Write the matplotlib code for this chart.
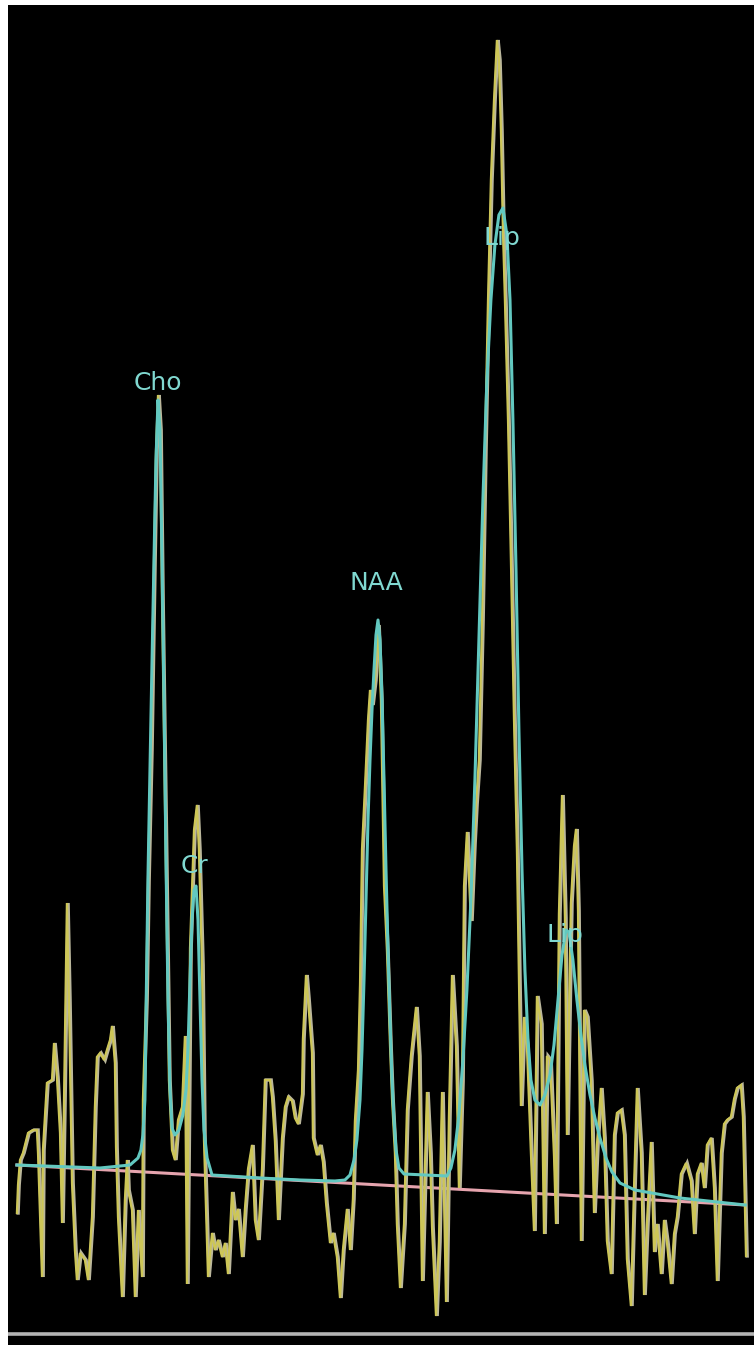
import matplotlib
matplotlib.use("Agg")
import matplotlib.pyplot as plt
from matplotlib import font_manager, transforms

# ---------------- data (chemical shift in ppm, signal in arbitrary units) -------------
raw_ppm = [4.006, 4.000, 3.989, 3.973, 3.945, 3.918, 3.896, 3.890, 3.868, 3.863, 3.852, 3.841,
           3.813, 3.802, 3.786, 3.769, 3.758, 3.747, 3.731, 3.720, 3.703, 3.687, 3.676, 3.659,
           3.632, 3.615, 3.593, 3.577, 3.566, 3.549, 3.527, 3.511, 3.494, 3.483, 3.467, 3.461,
           3.450, 3.428, 3.412, 3.401, 3.395, 3.373, 3.357, 3.340, 3.318, 3.313, 3.296, 3.285,
           3.269, 3.252, 3.241, 3.230, 3.219, 3.208, 3.192, 3.181, 3.170, 3.153, 3.137, 3.120,
           3.098, 3.082, 3.071, 3.054, 3.032, 3.016, 3.005, 2.988, 2.977, 2.955, 2.933, 2.917,
           2.900, 2.878, 2.862, 2.845, 2.823, 2.807, 2.790, 2.768, 2.752, 2.735, 2.713, 2.697,
           2.680, 2.658, 2.642, 2.614, 2.603, 2.587, 2.570, 2.548, 2.532, 2.515, 2.493, 2.477,
           2.460, 2.438, 2.433, 2.416, 2.405, 2.383, 2.378, 2.356, 2.339, 2.323, 2.306, 2.284,
           2.268, 2.246, 2.229, 2.213, 2.191, 2.174, 2.158, 2.147, 2.130, 2.119, 2.108, 2.092,
           2.075, 2.064, 2.053, 2.037, 2.020, 2.004, 1.987, 1.971, 1.954, 1.943, 1.927, 1.916,
           1.899, 1.877, 1.861, 1.839, 1.811, 1.795, 1.778, 1.751, 1.734, 1.723, 1.701, 1.685,
           1.668, 1.646, 1.630, 1.613, 1.591, 1.575, 1.558, 1.547, 1.531, 1.509, 1.492, 1.481,
           1.465, 1.448, 1.432, 1.415, 1.399, 1.382, 1.366, 1.355, 1.344, 1.333, 1.322, 1.305,
           1.289, 1.272, 1.256, 1.245, 1.234, 1.217, 1.201, 1.179, 1.162, 1.146, 1.124, 1.107,
           1.091, 1.074, 1.052, 1.041, 1.025, 1.008, 0.992, 0.981, 0.959, 0.942, 0.931, 0.920,
           0.904, 0.887, 0.871, 0.849, 0.832, 0.816, 0.794, 0.777, 0.761, 0.739, 0.722, 0.706,
           0.684, 0.667, 0.651, 0.629, 0.612, 0.596, 0.574, 0.557, 0.541, 0.519, 0.502, 0.486,
           0.464, 0.447, 0.431, 0.409, 0.392, 0.376, 0.354, 0.326, 0.299, 0.282, 0.266, 0.244,
           0.227, 0.211, 0.189, 0.172, 0.156, 0.134, 0.117, 0.101, 0.079, 0.062, 0.046, 0.024,
           0.013, -0.004]
raw_signal = [-1.3, 1.5, 4.0, 4.7, 6.7, 7.0, 7.0, 4.7, -7.7, 5.0, 8.3, 11.7,
              12.0, 15.7, 12.3, 6.7, -2.3, 10.0, 29.7, 20.0, 1.7, -5.0, -8.0, -5.3,
              -6.0, -8.0, -1.7, 9.3, 14.3, 14.7, 14.0, 15.0, 16.0, 17.4, 13.7, 5.3,
              -1.7, -9.7, 0.0, 4.0, 1.0, -1.0, -9.7, -1.0, -7.7, 10.0, 20.0, 32.0,
              45.0, 64.0, 75.0, 80.5, 77.0, 60.0, 40.0, 25.9, 12.0, 5.0, 4.0, 8.0,
              9.3, 16.4, -8.4, 25.2, 37.0, 39.5, 35.0, 23.5, 5.9, -7.7, -3.3, -5.0,
              -4.0, -5.7, -4.3, -7.4, 0.8, -2.0, -0.9, -5.7, -0.9, 3.1, 5.5, -2.0,
              -4.0, 3.1, 12.0, 12.0, 10.3, 5.9, -2.0, 6.2, 9.3, 10.3, 9.9, 8.2,
              7.6, 10.6, 16.1, 22.5, 20.1, 14.7, 6.2, 4.5, 5.5, 3.8, -0.3, -4.3,
              -3.3, -5.7, -9.8, -5.0, -0.9, -5.0, 0.1, 7.9, 13.0, 21.5, 35.1, 41.2,
              48.0, 51.0, 49.5, 52.0, 57.5, 50.0, 31.4, 25.0, 15.4, 10.1, 4.7, -2.4,
              -8.8, -2.4, 9.0, 14.4, 19.3, 14.4, -8.1, 10.8, 4.7, -2.7, -11.6, -4.2,
              10.8, -10.2, 8.3, 22.5, 15.4, 1.2, 11.9, 31.4, 36.8, 27.9, 35.7, 39.6,
              44.0, 58.0, 75.0, 90.0, 102.0, 110.0, 116.0, 114.0, 107.0, 97.0, 90.0, 78.0,
              64.0, 48.0, 35.0, 22.0, 9.4, 18.3, 15.4, 4.7, -3.1, 20.4, 17.6, -3.4,
              14.4, 14.0, 4.4, -2.4, 28.6, 40.5, 28.2, 6.5, 29.7, 35.4, 37.1, 28.9,
              -4.1, 19.0, 18.3, 11.9, -1.3, 5.5, 11.2, 6.2, -4.1, -7.4, 6.5, 8.7,
              9.0, 6.5, -5.9, -10.6, 1.2, 11.2, 4.7, -9.5, -2.4, 5.8, -5.2, -2.4,
              -7.4, -2.0, -4.2, -8.4, -3.4, -1.7, 2.6, 3.7, 1.9, -3.4, 2.6, 3.7,
              1.2, 5.5, 6.2, 1.2, -8.1, 4.7, 7.6, 8.0, 8.3, 10.1, 11.2, 11.5,
              8.3, -5.6]

fit_ppm = [4.006, 3.549, 3.384, 3.340, 3.324, 3.313, 3.302, 3.296, 3.285, 3.269, 3.252, 3.241,
           3.230, 3.219, 3.208, 3.197, 3.186, 3.175, 3.164, 3.153, 3.137, 3.115, 3.093, 3.076,
           3.065, 3.054, 3.043, 3.032, 3.021, 3.010, 2.999, 2.988, 2.977, 2.960, 2.933, 2.669,
           2.449, 2.257, 2.202, 2.174, 2.152, 2.136, 2.119, 2.108, 2.097, 2.086, 2.075, 2.064,
           2.053, 2.042, 2.031, 2.020, 2.009, 1.998, 1.987, 1.976, 1.965, 1.954, 1.943, 1.932,
           1.921, 1.905, 1.877, 1.641, 1.619, 1.597, 1.575, 1.553, 1.531, 1.509, 1.487, 1.465,
           1.443, 1.421, 1.399, 1.377, 1.355, 1.333, 1.311, 1.294, 1.278, 1.261, 1.245, 1.228,
           1.212, 1.195, 1.179, 1.157, 1.129, 1.102, 1.074, 1.052, 1.030, 1.008, 0.986, 0.970,
           0.948, 0.926, 0.904, 0.882, 0.854, 0.827, 0.799, 0.766, 0.733, 0.689, 0.607, 0.359,
           0.000]
fit_signal = [3.5, 3.2, 3.5, 4.2, 5.0, 6.5, 10.0, 18.4, 32.4, 48.0, 64.0, 74.0,
              80.0, 77.0, 64.0, 50.0, 34.0, 20.0, 11.0, 7.2, 6.5, 7.0, 8.5, 11.0,
              15.0, 22.0, 28.0, 31.0, 31.4, 28.0, 20.0, 12.0, 7.0, 4.2, 2.5, 2.2,
              2.0, 1.9, 2.0, 2.5, 4.0, 6.0, 10.0, 15.0, 22.0, 30.0, 38.0, 44.0,
              49.0, 53.0, 56.5, 58.0, 56.0, 50.0, 42.0, 33.0, 25.0, 18.0, 12.0, 8.0,
              5.0, 3.2, 2.6, 2.4, 3.2, 5.0, 8.5, 14.0, 21.0, 30.0, 42.0, 56.0,
              70.0, 82.0, 90.0, 95.5, 98.5, 99.2, 96.5, 90.0, 78.0, 63.0, 47.0, 33.0,
              23.0, 16.0, 12.0, 10.0, 9.5, 10.5, 12.5, 15.5, 20.0, 24.5, 27.0, 26.8,
              24.0, 20.0, 16.5, 13.5, 10.5, 8.2, 6.2, 4.2, 2.8, 1.7, 1.0, 0.2,
              -0.5]

baseline_ppm = [4.006, 0.000]
baseline_signal = [3.5, -0.5]

label_text = ["Cho", "Cr", "NAA", "Lip", "Lip"]
label_ppm = [3.230, 3.027, 2.031, 1.239, 0.893]
label_signal = [81.7, 33.4, 61.7, 96.2, 26.5]
label_align = ["center", "center", "center", "right", "right"]

# ---------------- figure -------------------------------------------------------------
W, H = 754, 1345
fig = plt.figure(figsize=(W / 100, H / 100), dpi=100, facecolor="white")
ax = fig.add_axes([8 / W, 0, (W - 8) / W, (H - 5) / H])
ax.set_facecolor("black")
for s in ax.spines.values():
    s.set_visible(False)
ax.set_xticks([])
ax.set_yticks([])
ax.set_xlim(4.055, -0.048)
ax.set_ylim(-14.5, 119.5)

# bottom grey rule
ax.axhline(-13.35, color="#b4b4b4", lw=2.6, zorder=1)

# baseline
ax.plot(baseline_ppm, baseline_signal, color="#e6a4ae", lw=2.2, zorder=2)

# raw spectrum (grey/yellow fringe like the screen capture)
shift = transforms.offset_copy(ax.transData, fig=fig, x=1.2, y=0, units="dots")
ax.plot(raw_ppm, raw_signal, color="#bbb79c", lw=2.4, zorder=3, transform=shift,
        solid_joinstyle="miter")
ax.plot(raw_ppm, raw_signal, color="#cdc657", lw=1.6, zorder=4, solid_joinstyle="miter")

# fitted curve
ax.plot(fit_ppm, fit_signal, color="#62c8c0", lw=2.2, zorder=5)

# labels
names = {f.name for f in font_manager.fontManager.ttflist}
if "Liberation Sans Narrow" in names:
    fam, fs = "Liberation Sans Narrow", 22
else:
    fam, fs = "DejaVu Sans", 18
for t, x, y, ha in zip(label_text, label_ppm, label_signal, label_align):
    ax.text(x, y, t, color="#80d8d0", fontsize=fs, family=fam, ha=ha, va="center",
            zorder=6)

fig.savefig("out.png", dpi=100, facecolor="white")
